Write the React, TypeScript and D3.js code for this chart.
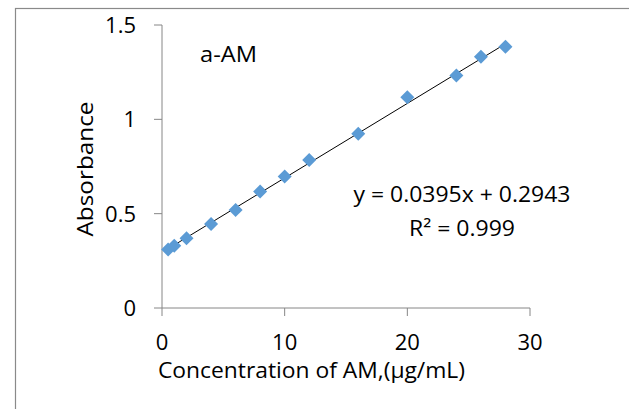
import React from "react";
import * as d3 from "d3";

const concentration = [0.5, 1, 2, 4, 6, 8, 10, 12, 16, 20, 24, 26, 28];
const absorbance = [0.31, 0.33, 0.37, 0.445, 0.52, 0.617, 0.697, 0.785, 0.923, 1.117, 1.232, 1.332, 1.385];
const xTicks = [0, 10, 20, 30];
const yTicks = [0, 0.5, 1, 1.5];
const yTickLabels = ["0", "0.5", "1", "1.5"];
const slope = 0.0395;
const intercept = 0.2943;
const trendRange = [0.5, 28];

const FONT = "'Open Sans', sans-serif";
const FS = 21.5;

export default function App() {
  const x = d3.scaleLinear().domain([0, 30]).range([162, 530]);
  const y = d3.scaleLinear().domain([0, 1.5]).range([308, 25]);
  const axisColor = "#868686";
  const diamond = d3.symbol().type(d3.symbolDiamond2).size(125)();
  const trend = d3
    .line<number>()
    .x((d) => x(d))
    .y((d) => y(slope * d + intercept))(trendRange);

  return (
    <svg
      width={629}
      height={409}
      style={{ position: "fixed", left: 0, top: 0, background: "#fff" }}
    >
      <rect x={0} y={0} width={629} height={409} fill="#fff" />
      <rect x={15.5} y={8.5} width={700} height={500} fill="none" stroke="#8a8a8a" strokeWidth={1.2} />
      {/* axes */}
      <line x1={x(0)} x2={x(0)} y1={y(1.5)} y2={y(0)} stroke={axisColor} strokeWidth={1} />
      <line x1={x(0)} x2={x(30)} y1={y(0)} y2={y(0)} stroke={axisColor} strokeWidth={1} />
      {yTicks.map((t, i) => (
        <g key={"y" + i}>
          <line x1={x(0) - 8} x2={x(0)} y1={y(t)} y2={y(t)} stroke={axisColor} />
          <text
            x={136}
            y={y(t)}
            dy="0.36em"
            textAnchor="end"
            fontFamily={FONT}
            fontSize={22}
            fill="#000"
          >
            {yTickLabels[i]}
          </text>
        </g>
      ))}
      {xTicks.map((t) => (
        <g key={"x" + t}>
          <line x1={x(t)} x2={x(t)} y1={y(0)} y2={y(0) + 8} stroke={axisColor} />
          <text x={x(t)} y={350} textAnchor="middle" fontFamily={FONT} fontSize={22} fill="#000">
            {t}
          </text>
        </g>
      ))}
      {/* trendline */}
      <path d={trend || ""} fill="none" stroke="#000" strokeWidth={1} />
      {/* points */}
      {concentration.map((c, i) => (
        <path
          key={"p" + i}
          d={diamond || ""}
          transform={`translate(${x(c)},${y(absorbance[i])})`}
          fill="#5B9BD5"
        />
      ))}
      {/* labels */}
      <text x={200} y={61.5} fontFamily={FONT} fontSize={FS} fill="#000" textLength={57} lengthAdjust="spacingAndGlyphs">
        a-AM
      </text>
      <text x={462} y={201.5} textAnchor="middle" fontFamily={FONT} fontSize={FS} fill="#000" textLength={217} lengthAdjust="spacingAndGlyphs">
        y = 0.0395x + 0.2943
      </text>
      <text x={462} y={236} textAnchor="middle" fontFamily={FONT} fontSize={FS} fill="#000" textLength={106} lengthAdjust="spacingAndGlyphs">
        R² = 0.999
      </text>
      <text x={311.5} y={378} textAnchor="middle" fontFamily={FONT} fontSize={FS} fill="#000" textLength={307} lengthAdjust="spacingAndGlyphs">
        Concentration of AM,(µg/mL)
      </text>
      <text
        transform="translate(93,169) rotate(-90)"
        textAnchor="middle"
        fontFamily={FONT}
        fontSize={FS}
        fill="#000"
        textLength={135}
        lengthAdjust="spacingAndGlyphs"
      >
        Absorbance
      </text>
    </svg>
  );
}
